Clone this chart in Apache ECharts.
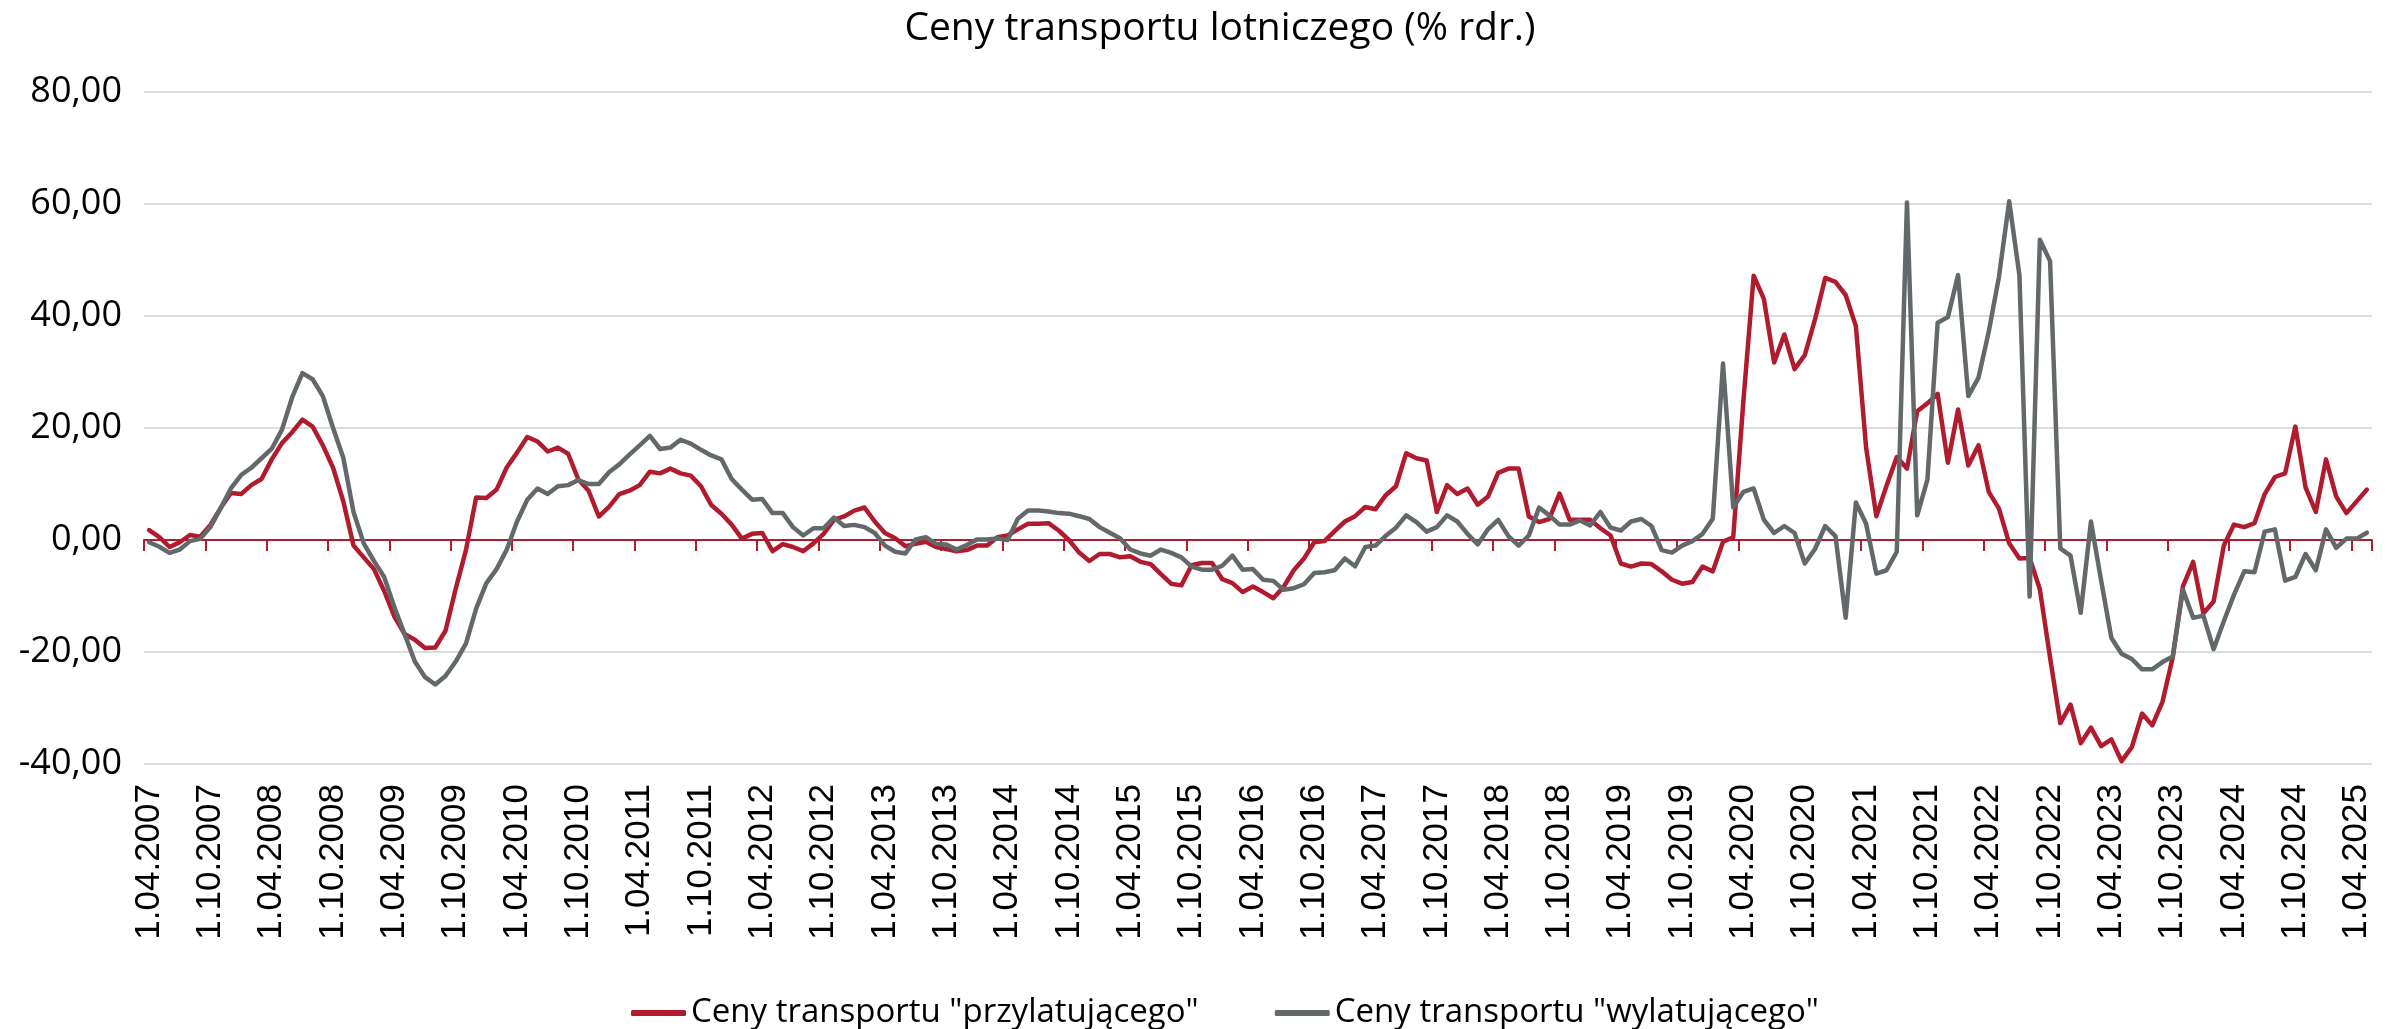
<!DOCTYPE html>
<html>
<head>
<meta charset="utf-8">
<title>Ceny transportu lotniczego</title>
<script src="https://cdn.jsdelivr.net/npm/echarts@6/dist/echarts.min.js"></script>
<style>
  html, body { margin: 0; padding: 0; background: #ffffff; }
  #chart { width: 2399px; height: 1029px; }
</style>
</head>
<body>
<div id="chart"></div>
<script>
// Monthly observations, April 2007 - May 2025 (y/y change in %)
const START_YEAR = 2007;
const START_MONTH = 4;
const MONTH_COUNT = 218;

const categories = [];
for (let k = 0; k < MONTH_COUNT; k++) {
  const m = (START_MONTH - 1 + k) % 12 + 1;
  const y = START_YEAR + Math.floor((START_MONTH - 1 + k) / 12);
  categories.push('1.' + String(m).padStart(2, '0') + '.' + y);
}

const seriesNames = ['Ceny transportu "przylatującego"', 'Ceny transportu "wylatującego"'];

// Ceny transportu "przylatującego"
const arrivals = [
  1.75, 0.5, -1.25, -0.4, 0.9, 0.6, 2.7, 5.7, 8.4, 8.2, 9.8, 10.9,
  14.4, 17.3, 19.25, 21.5, 20.25, 16.9, 12.9, 6.9, -1.0, -3.1, -5.2, -9.1,
  -13.7, -16.8, -17.8, -19.3, -19.2, -16.2, -8.7, -1.8, 7.6, 7.5, 9.0, 13.0,
  15.6, 18.4, 17.6, 15.8, 16.5, 15.4, 10.8, 8.8, 4.2, 5.9, 8.2, 8.8,
  9.8, 12.2, 11.9, 12.75, 11.9, 11.5, 9.6, 6.25, 4.7, 2.75, 0.25, 1.1,
  1.25, -2.0, -0.75, -1.25, -2.0, -0.6, 1.1, 3.6, 4.2, 5.25, 5.8, 3.3,
  1.25, 0.3, -1.1, -0.7, -0.3, -1.25, -1.6, -2.0, -1.8, -1.0, -1.0, 0.5,
  0.8, 1.9, 2.9, 2.9, 3.0, 1.7, 0.0, -2.25, -3.75, -2.5, -2.5, -3.1,
  -2.9, -3.9, -4.3, -6.1, -7.8, -8.1, -4.5, -4.1, -4.1, -7.0, -7.7, -9.3,
  -8.3, -9.3, -10.4, -8.4, -5.4, -3.3, -0.4, -0.2, 1.6, 3.3, 4.25, 5.9,
  5.5, 8.0, 9.6, 15.5, 14.6, 14.2, 5.0, 9.8, 8.2, 9.2, 6.3, 7.75,
  12.0, 12.75, 12.75, 4.2, 3.2, 3.75, 8.3, 3.6, 3.6, 3.6, 2.1, 0.8,
  -4.2, -4.75, -4.2, -4.3, -5.6, -7.1, -7.8, -7.5, -4.75, -5.6, -0.3, 0.5,
  25.0, 47.2, 43.0, 31.7, 36.7, 30.5, 33.0, 39.4, 46.8, 46.1, 43.75, 38.2,
  16.5, 4.25, 9.7, 14.8, 12.75, 23.0, 24.4, 26.1, 13.8, 23.3, 13.3, 16.9,
  8.6, 5.6, -0.6, -3.3, -3.2, -8.8, -21.0, -32.7, -29.4, -36.3, -33.5, -36.8,
  -35.6, -39.5, -37.0, -31.0, -33.1, -28.9, -21.0, -8.3, -3.9, -13.1, -11.0, -1.0,
  2.75, 2.3, 3.0, 8.2, 11.25, 11.9, 20.25, 9.4, 5.0, 14.4, 7.75, 4.8,
  6.9, 9.0
];

// Ceny transportu "wylatującego"
const departures = [
  -0.4, -1.2, -2.3, -1.7, -0.2, 0.2, 2.3, 5.7, 9.2, 11.6, 12.9, 14.6,
  16.3, 19.7, 25.5, 29.8, 28.7, 25.7, 20.0, 14.7, 5.0, -0.6, -3.75, -6.6,
  -12.0, -16.8, -21.7, -24.5, -25.8, -24.3, -21.7, -18.5, -12.25, -7.7, -5.2, -1.7,
  3.3, 7.2, 9.2, 8.2, 9.6, 9.8, 10.7, 10.0, 10.0, 12.1, 13.5, 15.25,
  16.9, 18.6, 16.25, 16.5, 17.9, 17.2, 16.1, 15.1, 14.4, 10.9, 9.0, 7.2,
  7.3, 4.8, 4.8, 2.3, 0.8, 2.1, 2.1, 4.0, 2.5, 2.7, 2.3, 1.25,
  -1.0, -2.1, -2.4, 0.1, 0.5, -0.7, -0.8, -1.7, -0.9, 0.1, 0.1, 0.25,
  0.0, 3.8, 5.25, 5.25, 5.1, 4.8, 4.7, 4.25, 3.75, 2.3, 1.3, 0.3,
  -1.7, -2.4, -2.8, -1.7, -2.3, -3.1, -4.75, -5.3, -5.3, -4.6, -2.8, -5.3,
  -5.2, -7.1, -7.3, -8.9, -8.6, -7.9, -5.9, -5.75, -5.4, -3.3, -4.7, -1.25,
  -1.0, 0.75, 2.2, 4.4, 3.2, 1.5, 2.3, 4.4, 3.3, 1.1, -0.8, 1.9,
  3.6, 0.7, -1.0, 0.8, 5.8, 4.4, 2.75, 2.75, 3.5, 2.6, 5.0, 2.2,
  1.7, 3.3, 3.75, 2.5, -1.8, -2.25, -1.0, -0.2, 1.1, 3.8, 31.5, 5.8,
  8.6, 9.2, 3.6, 1.25, 2.5, 1.25, -4.2, -1.6, 2.5, 0.7, -13.9, 6.7,
  2.9, -6.0, -5.4, -2.1, 60.25, 4.4, 10.8, 38.8, 39.8, 47.3, 25.7, 29.0,
  37.2, 47.0, 60.5, 47.3, -10.1, 53.6, 49.8, -1.5, -2.8, -13.0, 3.3, -7.25,
  -17.5, -20.3, -21.25, -23.1, -23.1, -21.8, -20.8, -8.9, -13.9, -13.5, -19.5, -14.5,
  -9.75, -5.6, -5.75, 1.5, 1.9, -7.25, -6.6, -2.5, -5.4, 1.9, -1.4, 0.25,
  0.25, 1.3
];

// Value axis ticks
const yTickMin = -40;
const yTickMax = 80;
const yTickStep = 20;

const RED = '#B01B2E';
const GREY = '#63686A';

const chart = echarts.init(document.getElementById('chart'), null, { renderer: 'canvas' });

const formatPl = v => v.toFixed(2).replace('.', ',');

chart.setOption({
  animation: false,
  backgroundColor: '#ffffff',
  title: {
    text: 'Ceny transportu lotniczego (% rdr.)',
    left: 1215,
    textAlign: 'center',
    top: 4,
    textStyle: { fontFamily: 'Open Sans', fontSize: 39, fontWeight: 'normal', color: '#000000' }
  },
  legend: {
    data: seriesNames.map(n => ({ name: n, icon: 'roundRect' })),
    left: 631,
    top: 993,
    padding: 0,
    itemWidth: 55,
    itemHeight: 6,
    itemGap: 76,
    textStyle: { fontFamily: 'Open Sans', fontSize: 33, color: '#000000', lineHeight: 40 }
  },
  grid: { left: 144, right: 27, top: 92, bottom: 265 },
  xAxis: [
    {
      type: 'category',
      data: categories,
      boundaryGap: true,
      position: 'bottom',
      axisLine: { show: false, onZero: false },
      axisTick: { show: false },
      splitLine: { show: false },
      axisLabel: {
        interval: 5,
        rotate: 90,
        margin: 20,
        fontFamily: 'Liberation Sans',
        fontSize: 35,
        color: '#000000'
      }
    },
    {
      type: 'category',
      data: categories,
      boundaryGap: true,
      position: 'bottom',
      axisLine: { show: true, onZero: true, lineStyle: { color: RED, width: 2 } },
      axisTick: { show: true, interval: 5, length: 11, lineStyle: { color: RED, width: 2 } },
      axisLabel: { show: false },
      splitLine: { show: false }
    }
  ],
  yAxis: {
    type: 'value',
    min: yTickMin,
    max: yTickMax,
    interval: yTickStep,
    axisLine: { show: false },
    axisTick: { show: false },
    axisLabel: {
      formatter: formatPl,
      margin: 22,
      fontFamily: 'Open Sans',
      fontSize: 36,
      color: '#000000'
    },
    splitLine: { lineStyle: { color: '#DCDCDC', width: 2 } }
  },
  series: [
    {
      name: seriesNames[0],
      type: 'line',
      xAxisIndex: 0,
      data: arrivals,
      symbol: 'none',
      color: RED,
      lineStyle: { color: RED, width: 4.5, join: 'round', cap: 'round' }
    },
    {
      name: seriesNames[1],
      type: 'line',
      xAxisIndex: 0,
      data: departures,
      symbol: 'none',
      color: GREY,
      lineStyle: { color: GREY, width: 4.5, join: 'round', cap: 'round' }
    }
  ]
});
</script>
</body>
</html>
